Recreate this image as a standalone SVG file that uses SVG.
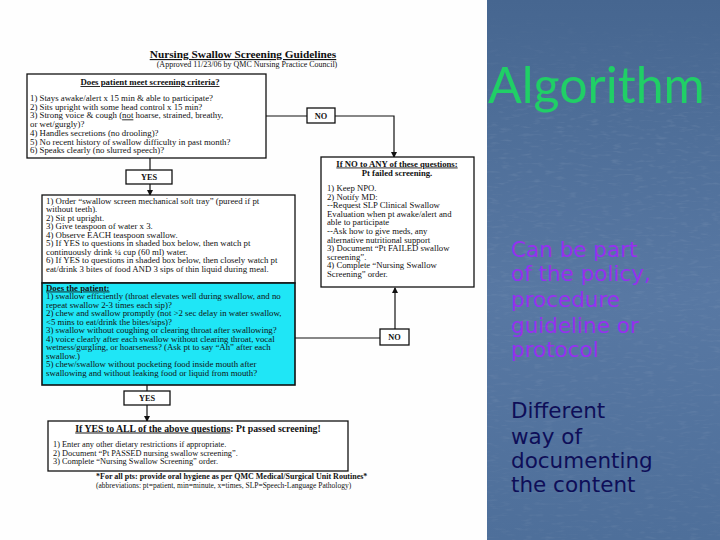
<svg xmlns="http://www.w3.org/2000/svg" width="720" height="540" viewBox="0 0 720 540">
<style>
.t{font-family:"Liberation Serif","Times New Roman",serif;font-size:8.8px;fill:#111}
.s{font-size:8.7px}
.p{font-size:8.3px}
.b{font-weight:bold}
.u{text-decoration:underline}
.box{fill:#fff;stroke:#111;stroke-width:1.3}
.lbl{fill:#fff;stroke:#111;stroke-width:1.3}
.ln{fill:none;stroke:#111;stroke-width:1.2}
.side{font-family:"DejaVu Sans",Verdana,sans-serif;font-size:21.5px}
</style>
<defs>
<marker id="ah" markerWidth="6" markerHeight="6" refX="5" refY="3" orient="auto" markerUnits="userSpaceOnUse">
<path d="M0,0 L6,3 L0,6 Z" fill="#111"/>
</marker>
<linearGradient id="bg" x1="0" y1="0" x2="0" y2="1">
<stop offset="0" stop-color="#466690"/>
<stop offset="0.22" stop-color="#4e6e98"/>
<stop offset="0.55" stop-color="#5878a3"/>
<stop offset="1" stop-color="#4e6f9a"/>
</linearGradient>
<filter id="tex" x="0" y="0" width="1" height="1">
<feTurbulence type="fractalNoise" baseFrequency="0.09 0.35" numOctaves="2" seed="7"/>
<feColorMatrix type="matrix" values="0 0 0 0 1  0 0 0 0 1  0 0 0 0 1  0 0 0 1.4 -0.75"/>
</filter>
<linearGradient id="fade" x1="0" y1="0" x2="0" y2="1">
<stop offset="0" stop-color="#fff" stop-opacity="0"/>
<stop offset="0.22" stop-color="#fff" stop-opacity="0.7"/>
<stop offset="1" stop-color="#fff" stop-opacity="0.5"/>
</linearGradient>
<mask id="m"><rect x="487" y="0" width="233" height="540" fill="url(#fade)"/></mask>
</defs>
<rect width="720" height="540" fill="#fefefe"/>
<g id="panel">
<rect x="487" y="0" width="233" height="540" fill="url(#bg)"/>
<g mask="url(#m)">
<rect x="487" y="0" width="233" height="540" filter="url(#tex)" opacity="0.22"/>
</g>
<text x="488" y="103" font-family="Lato,sans-serif" font-size="50" fill="#20cf66">Algorithm</text>
<g class="side" fill="#9630f0">
<text x="511" y="257">Can be part</text>
<text x="511" y="280.5">of the policy,</text>
<text x="511" y="307">procedure</text>
<text x="511" y="333">guideline or</text>
<text x="511" y="357">protocol</text>
</g>
<g class="side" fill="#0e0e58">
<text x="511" y="418">Different</text>
<text x="511" y="444">way of</text>
<text x="511" y="468">documenting</text>
<text x="511" y="492">the content</text>
</g>
</g>
<g id="title">
<text x="243" y="58" text-anchor="middle" class="t b u" style="font-size:11.3px">Nursing Swallow Screening Guidelines</text>
<text x="247" y="66.5" text-anchor="middle" class="t" style="font-size:8px">(Approved 11/23/06 by QMC Nursing Practice Council)</text>
</g>
<g id="connectors">
<polyline class="ln" points="266,116 307,116"/>
<polyline class="ln" points="335,116 394,116 394,157" marker-end="url(#ah)"/>
<polyline class="ln" points="150,158 150,170"/>
<polyline class="ln" points="150,184 150,195" marker-end="url(#ah)"/>
<polyline class="ln" points="295,338 380,338"/>
<polyline class="ln" points="395,329 395,288" marker-end="url(#ah)"/>
<polyline class="ln" points="147,385 147,391"/>
<polyline class="ln" points="147,405 147,421" marker-end="url(#ah)"/>
</g>
<g id="criteria">
<rect class="box" x="27" y="74" width="239" height="84"/>
<text x="150" y="85" text-anchor="middle" class="t b u">Does patient meet screening criteria?</text>
<text x="30" y="101" class="t">1)  Stays awake/alert x 15 min &amp; able to participate?</text>
<text x="30" y="109.7" class="t">2)  Sits upright with some head control x 15 min?</text>
<text x="30" y="118.4" class="t">3)  Strong voice &amp; cough (<tspan class="u">not</tspan> hoarse, strained, breathy,</text>
<text x="30" y="127.1" class="t">or wet/gurgly)?</text>
<text x="30" y="135.8" class="t">4)  Handles secretions (no drooling)?</text>
<text x="30" y="144.5" class="t">5)  No recent history of swallow difficulty in past month?</text>
<text x="30" y="153.2" class="t">6)  Speaks clearly (no slurred speech)?</text>
</g>
<g id="no1">
<rect class="lbl" x="307" y="108" width="28" height="15"/>
<text x="321" y="118.5" text-anchor="middle" class="t b p">NO</text>
</g>
<g id="failed">
<rect class="box" x="321" y="157" width="153" height="130"/>
<text x="397" y="166.5" text-anchor="middle" class="t b u s">If NO to ANY of these questions:</text>
<text x="397" y="175.5" text-anchor="middle" class="t b s">Pt failed screening.</text>
<text x="327" y="191" class="t s">1)  Keep NPO.</text>
<text x="327" y="199.6" class="t s">2)  Notify MD:</text>
<text x="327" y="208.2" class="t s">--Request SLP Clinical Swallow</text>
<text x="327" y="216.8" class="t s">Evaluation when pt awake/alert and</text>
<text x="327" y="225.4" class="t s">able to participate</text>
<text x="327" y="234" class="t s">--Ask how to give meds, any</text>
<text x="327" y="242.6" class="t s">alternative nutritional support</text>
<text x="327" y="251.2" class="t s">3)  Document “Pt FAILED swallow</text>
<text x="327" y="259.8" class="t s">screening”.</text>
<text x="327" y="268.4" class="t s">4)  Complete “Nursing Swallow</text>
<text x="327" y="277" class="t s">Screening” order.</text>
</g>
<g id="yes1">
<rect class="lbl" x="126" y="170" width="46" height="14"/>
<text x="149" y="180" text-anchor="middle" class="t b p">YES</text>
</g>
<g id="steps">
<rect class="box" x="42" y="195" width="253" height="88"/>
<text x="46" y="203.5" class="t">1)  Order “swallow screen mechanical soft tray” (pureed if pt</text>
<text x="46" y="212" class="t">without teeth).</text>
<text x="46" y="220.5" class="t">2)  Sit pt upright.</text>
<text x="46" y="229" class="t">3)  Give teaspoon of water x 3.</text>
<text x="46" y="237.5" class="t">4)  Observe EACH teaspoon swallow.</text>
<text x="46" y="246" class="t">5)  If YES to questions in shaded box below, then watch pt</text>
<text x="46" y="254.5" class="t">continuously drink ¼ cup (60 ml) water.</text>
<text x="46" y="263" class="t">6)  If YES to questions in shaded box below, then closely watch pt</text>
<text x="46" y="271.5" class="t">eat/drink 3 bites of food AND 3 sips of thin liquid during meal.</text>
</g>
<g id="shaded">
<rect x="42" y="283" width="253" height="102" fill="#1fe6f6" stroke="#111" stroke-width="1.6"/>
<text x="46" y="290.5" class="t b u">Does the patient:</text>
<text x="46" y="299" class="t">1)  swallow efficiently (throat elevates well during swallow, and no</text>
<text x="46" y="307.5" class="t">repeat swallow 2-3 times each sip)?</text>
<text x="46" y="316" class="t">2)  chew and swallow promptly (not &gt;2 sec delay in water swallow,</text>
<text x="46" y="324.5" class="t">&lt;5 mins to eat/drink the bites/sips)?</text>
<text x="46" y="333" class="t">3)  swallow without coughing or clearing throat after swallowing?</text>
<text x="46" y="341.5" class="t">4)  voice clearly after each swallow without clearing throat, vocal</text>
<text x="46" y="350" class="t">wetness/gurgling, or hoarseness? (Ask pt to say “Ah” after each</text>
<text x="46" y="358.5" class="t">swallow.)</text>
<text x="46" y="367" class="t">5)  chew/swallow without pocketing food inside mouth after</text>
<text x="46" y="375.5" class="t">swallowing and without leaking food or liquid from mouth?</text>
</g>
<g id="no2">
<rect class="lbl" x="380" y="329" width="29" height="16"/>
<text x="394.5" y="340" text-anchor="middle" class="t b p">NO</text>
</g>
<g id="yes2">
<rect class="lbl" x="124" y="391" width="46" height="14"/>
<text x="147" y="401" text-anchor="middle" class="t b p">YES</text>
</g>
<g id="passed">
<rect class="box" x="48" y="421" width="300" height="50"/>
<text x="198" y="431.5" text-anchor="middle" class="t b" style="font-size:9.8px"><tspan class="u">If YES to ALL of the above questions</tspan>:  Pt passed screening!</text>
<text x="53" y="447" class="t p">1)  Enter any other dietary restrictions if appropriate.</text>
<text x="53" y="455.7" class="t p">2)  Document “Pt PASSED nursing swallow screening”.</text>
<text x="53" y="464.4" class="t p">3)  Complete “Nursing Swallow Screening” order.</text>
</g>
<g id="footer">
<text x="96" y="479" class="t b" style="font-size:8px">*For all pts:  provide oral hygiene as per QMC Medical/Surgical Unit Routines*</text>
<text x="96" y="488" class="t" style="font-size:7.5px">(abbreviations:  pt=patient, min=minute, x=times, SLP=Speech-Language Pathology)</text>
</g>
</svg>
